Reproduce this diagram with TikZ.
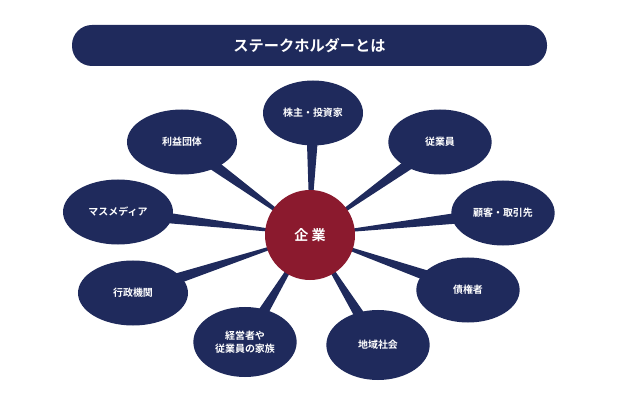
\documentclass[tikz,border=0pt]{standalone}
\usepackage{fontspec}
\newfontfamily\jp{Noto Sans CJK JP}[BoldFont={Noto Sans CJK JP Bold}]
\usetikzlibrary{calc,positioning,shapes.geometric}
\definecolor{navy}{HTML}{1F2A5C}
\definecolor{wine}{HTML}{8B1A2E}
\tikzset{
  party/.style={ellipse,fill=navy,text=white,minimum width=3.1cm,minimum height=1.95cm,inner sep=0pt,align=center,font=\jp\bfseries\fontsize{8.5}{11}\selectfont},
  core/.style={circle,fill=wine,text=white,minimum size=2.7cm,font=\jp\bfseries\fontsize{12}{14}\selectfont},
  spoke/.style={fill=navy}
}
\newcommand{\spokeTo}[1]{\fill[spoke] ($(#1)!6pt!90:(core)$) -- (core) -- ($(#1)!6pt!-90:(core)$) -- cycle;}
\begin{document}
\begin{tikzpicture}[x=0.03cm,y=-0.03cm]
  \useasboundingbox (0,0) rectangle (620,400);
  \node[fill=navy,rounded corners=0.6cm,minimum width=475*0.03cm,minimum height=41*0.03cm,text=white,font=\jp\bfseries\fontsize{13}{15}\selectfont] (title) at (309.5,45.5) {ステークホルダーとは};

  \coordinate (core) at (310,235);
  \coordinate (p1) at (313,113);
  \coordinate (p2) at (182,142);
  \coordinate (p3) at (440,142);
  \coordinate (p4) at (118,212);
  \coordinate (p5) at (503,213);
  \coordinate (p6) at (133,293);
  \coordinate (p7) at (468,290);
  \coordinate (p8) at (245,342);
  \coordinate (p9) at (378,345);

  \foreach \p in {p1,p2,p3,p4,p5,p6,p7,p8,p9}{\spokeTo{\p}}

  \node[party,minimum width=3.0cm] (investor) at (p1) {株主・投資家};
  \node[party,minimum width=3.3cm] (lobby) at (p2) {利益団体};
  \node[party] (staff) at (p3) {従業員};
  \node[party,minimum width=3.3cm] (media) at (p4) {マスメディア};
  \node[party] (client) at (p5) {顧客・取引先};
  \node[party,minimum width=3.3cm] (gov) at (p6) {行政機関};
  \node[party] (creditor) at (p7) {債権者};
  \node[party,minimum height=2.1cm] (family) at (p8) {経営者や\\従業員の家族};
  \node[party,minimum height=2.1cm] (local) at (p9) {地域社会};

  \node[core] (firm) at (core) {企 業};
\end{tikzpicture}
\end{document}
